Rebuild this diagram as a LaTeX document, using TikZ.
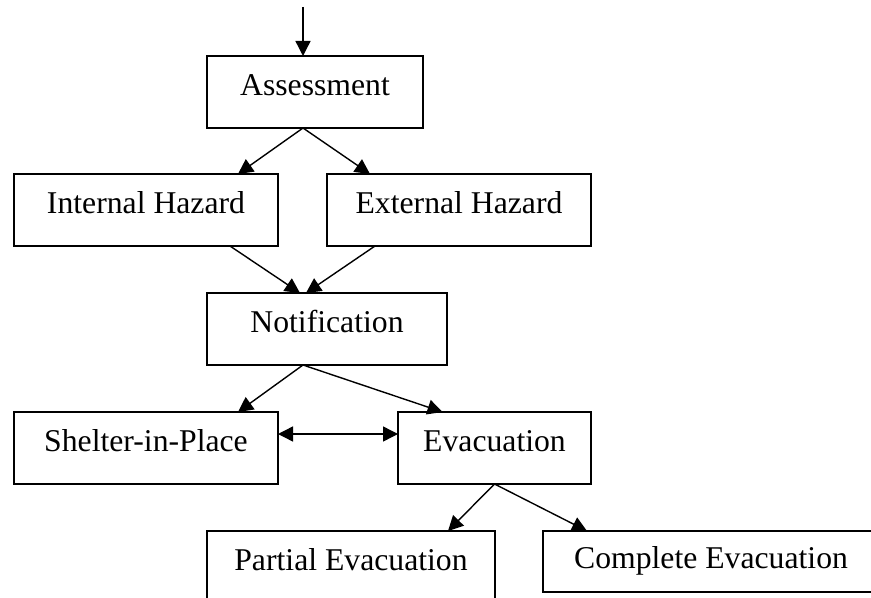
\documentclass[tikz,border=0pt]{standalone}
\usepackage{fontspec}
\setmainfont{Liberation Serif}
\usetikzlibrary{arrows.meta,positioning}

\begin{document}
\begin{tikzpicture}[x=0.5pt, y=-0.5pt, >={Triangle[length=7.5pt,width=7.5pt]}, line width=0.7pt]
  \tikzstyle{box} = [rectangle, draw, inner sep=0pt, outer sep=0pt, minimum height=36pt, text height=0.7em, text depth=0.385em, font=\fontsize{15.85}{19}\selectfont]

  \useasboundingbox (0,0) rectangle (871,598);
  \clip (0,0) rectangle (871,598);

  \node[box, minimum width=108pt] (assess) at (315,92) {Assessment};
  \node[box, minimum width=132pt] (internal) [below=23pt of assess, xshift=-84.5pt] {Internal Hazard};
  \node[box, minimum width=132pt] (external) [below=23pt of assess, xshift=72pt] {External Hazard};
  \node[box, minimum width=120pt] (notify) [below=23.5pt of internal, xshift=90.5pt] {Notification};
  \node[box, minimum width=132pt] (shelter) [below=23.5pt of notify, xshift=-90.5pt] {Shelter-in-Place};
  \node[box, minimum width=96.5pt] (evac) [right=60pt of shelter] {Evacuation};
  \node[box, minimum width=144pt] (partial) [below=23.5pt of evac, xshift=-71.75pt] {Partial Evacuation};
  \node[box, minimum width=168pt, minimum height=30.5pt, text depth=0.04em] (complete) [right=24pt of partial, yshift=2.75pt] {Complete Evacuation};

  \coordinate (entry) at (303,7);

  \draw[->] (entry) -- (entry |- assess.north);
  \draw[->] ([xshift=-6pt]assess.south) -- ([xshift=46pt]internal.north);
  \draw[->] ([xshift=-6pt]assess.south) -- ([xshift=-44.5pt]external.north);
  \draw[->] ([xshift=42pt]internal.south) -- ([xshift=-13.5pt]notify.north);
  \draw[->] ([xshift=-42pt]external.south) -- ([xshift=-10.5pt]notify.north);
  \draw[->] ([xshift=-12pt]notify.south) -- ([xshift=46pt]shelter.north);
  \draw[->] ([xshift=-12pt]notify.south) -- ([xshift=-26pt]evac.north);
  \draw[<->] ([yshift=7pt]shelter.east) -- ([yshift=7pt]evac.west);
  \draw[->] (evac.south) -- ([xshift=48.5pt]partial.north);
  \draw[->] (evac.south) -- ([xshift=-62pt]complete.north);
\end{tikzpicture}
\end{document}
